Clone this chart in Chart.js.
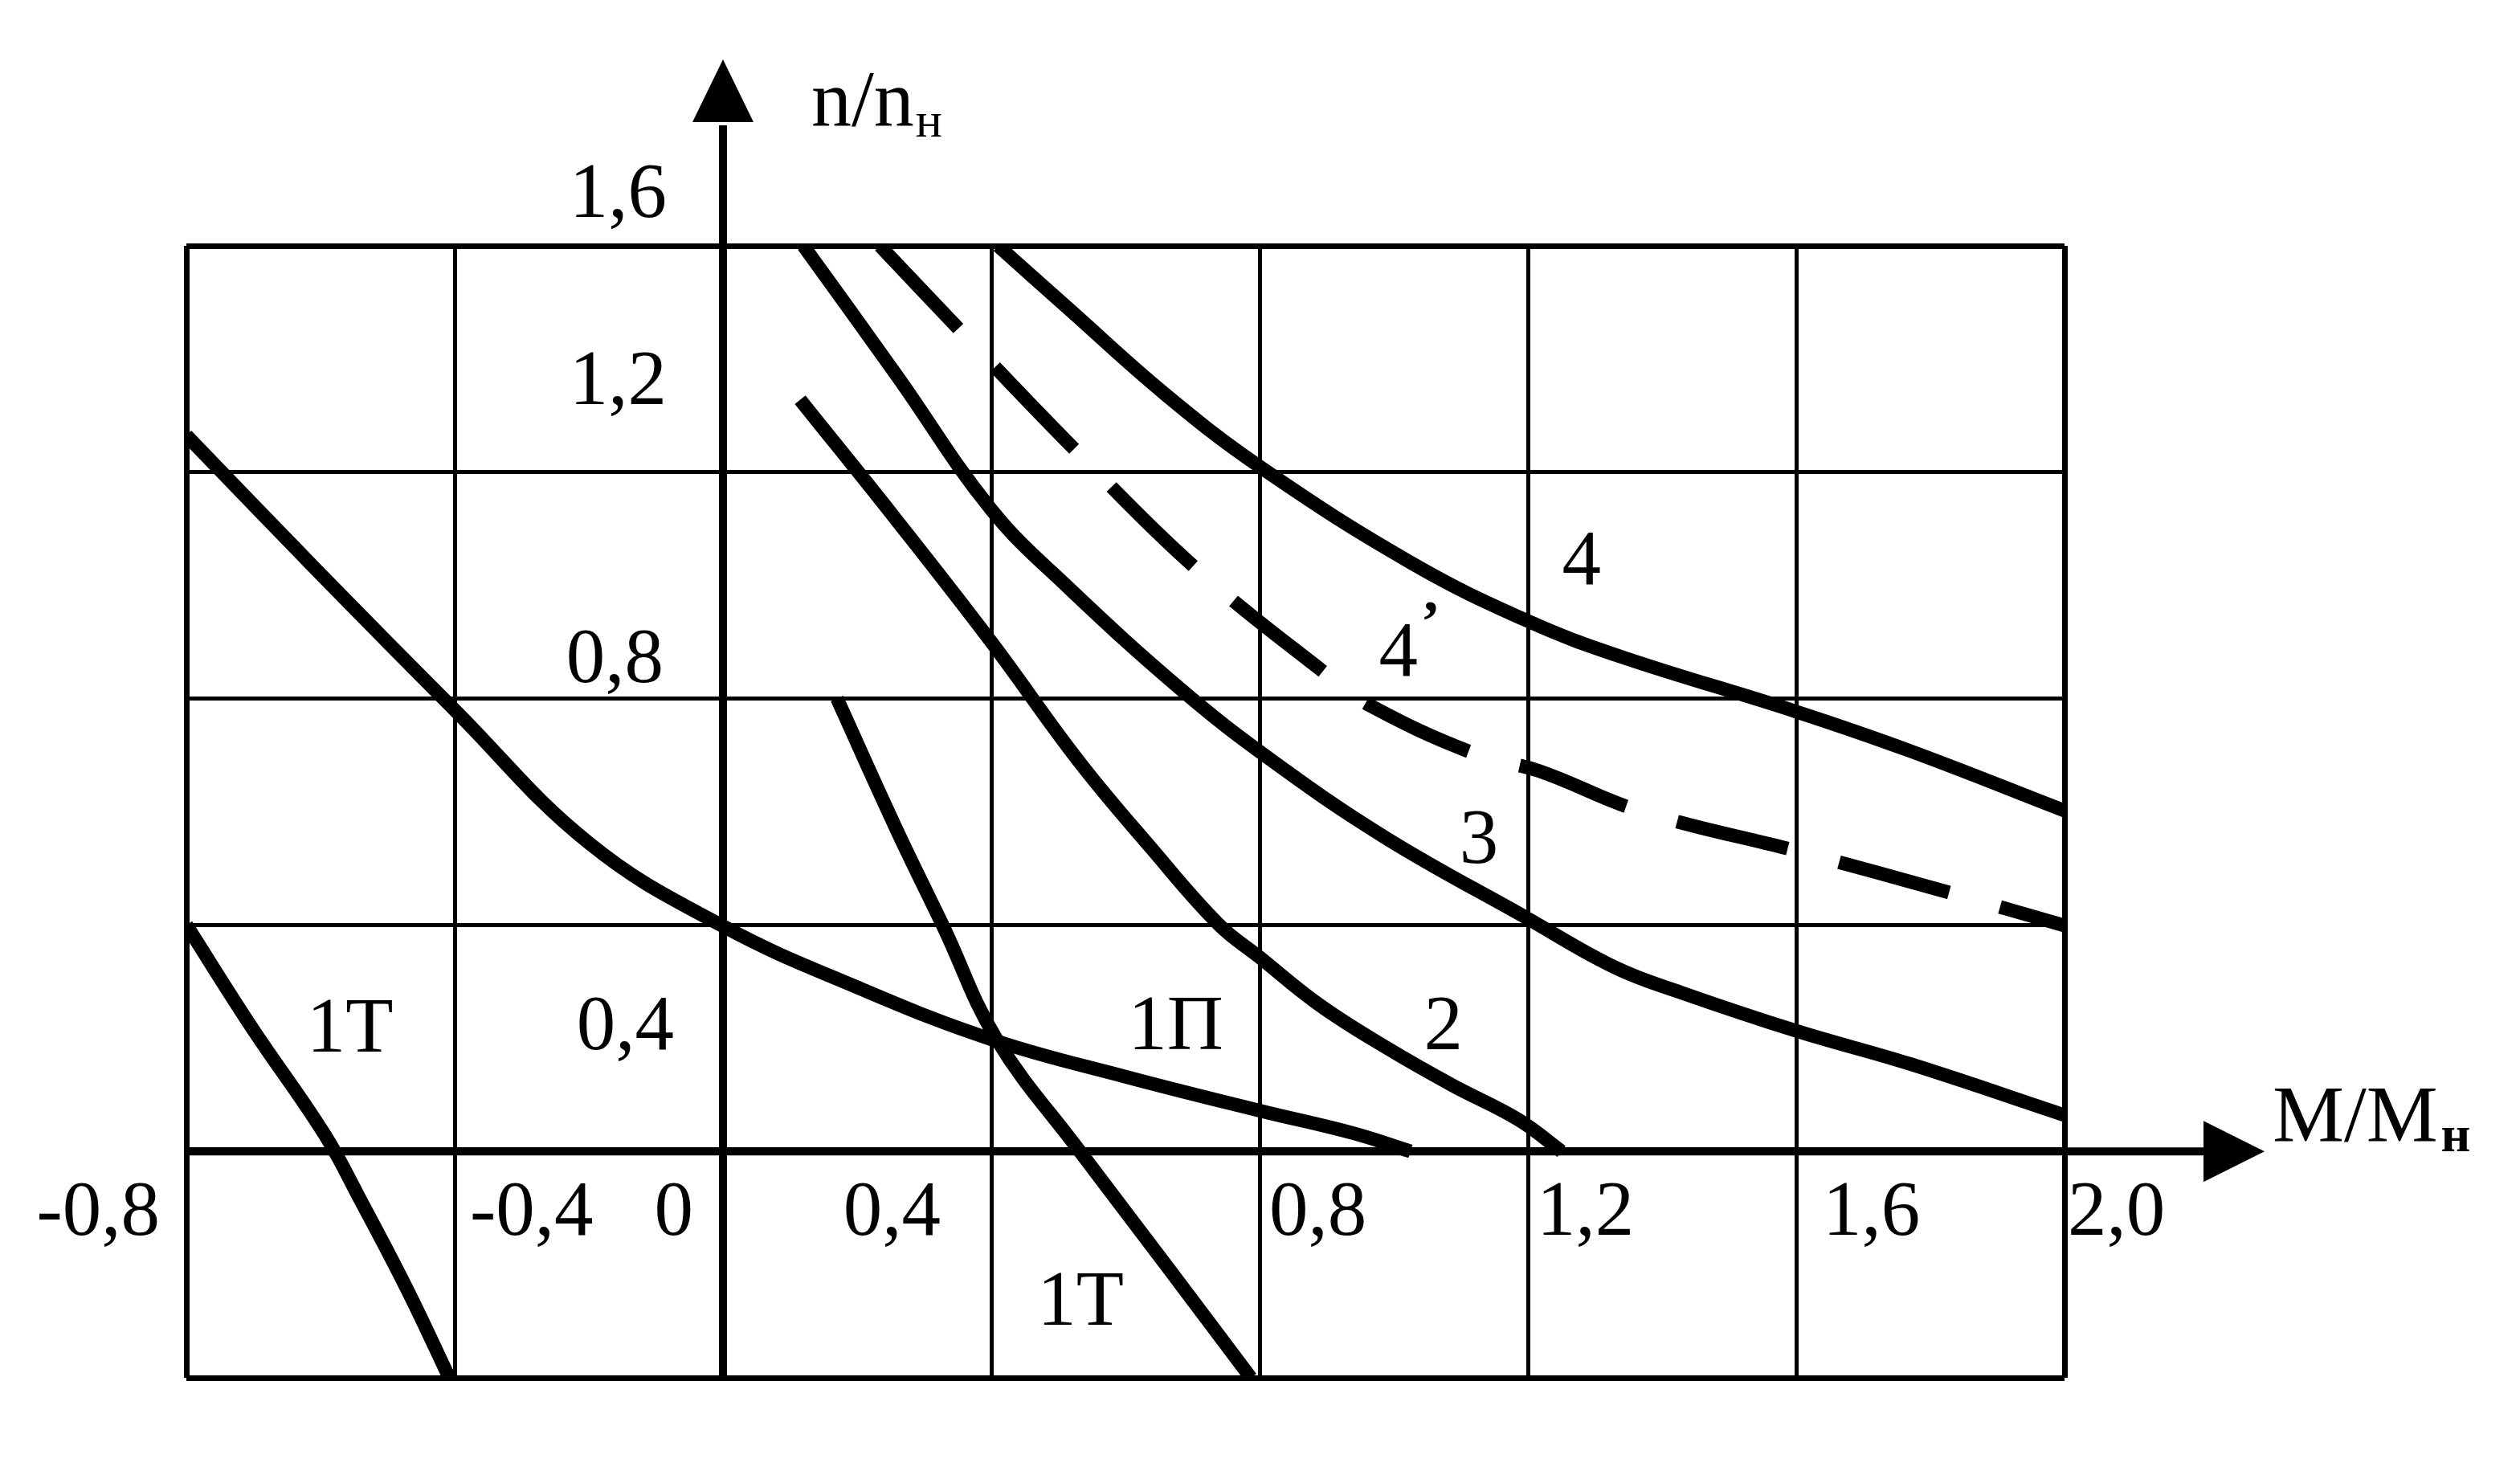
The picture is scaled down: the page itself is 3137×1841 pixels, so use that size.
<!DOCTYPE html>
<html>
<head>
<meta charset="utf-8">
<title>n/nн = f(M/Mн)</title>
<script src="https://cdn.jsdelivr.net/npm/chart.js@4.4.1/dist/chart.umd.min.js"></script>
<style>
  html, body { margin: 0; padding: 0; background: #fff; }
  canvas { display: block; }
</style>
</head>
<body>
<canvas id="chart" width="3137" height="1841"></canvas>
<script>
// tick values and their printed labels
const xTicks = [-0.8, -0.4, 0, 0.4, 0.8, 1.2, 1.6, 2.0];
const xTickLabels = ['-0,8', '-0,4', '0', '0,4', '0,8', '1,2', '1,6', '2,0'];
const yTicks = [1.6, 1.2, 0.8, 0.4];
const yTickLabels = ['1,6', '1,2', '0,8', '0,4'];

// curve 4 (solid)
const c4M = [0.41, 0.515, 0.659, 0.8, 1.026, 1.2, 1.339, 1.6, 1.771, 2.0];
const c4N = [1.6, 1.489, 1.338, 1.21, 1.04, 0.937, 0.874, 0.777, 0.707, 0.602];
// curve 4' (dashed)
const c4dM = [0.234, 0.354, 0.527, 0.707, 0.902, 0.966, 1.122, 1.217, 1.366, 1.61, 1.826, 2.0];
const c4dN = [1.6, 1.45, 1.237, 1.028, 0.841, 0.787, 0.702, 0.672, 0.602, 0.528, 0.458, 0.399];
// curve 3
const c3M = [0.12, 0.259, 0.4, 0.515, 0.685, 0.819, 0.988, 1.196, 1.33, 1.43, 1.6, 1.771, 2.0];
const c3N = [1.6, 1.371, 1.134, 0.996, 0.814, 0.69, 0.554, 0.414, 0.325, 0.28, 0.213, 0.154, 0.064];
// curve 2
const c2M = [0.115, 0.259, 0.4, 0.53, 0.639, 0.739, 0.799, 0.889, 0.988, 1.087, 1.186, 1.25];
const c2N = [1.328, 1.115, 0.9, 0.69, 0.535, 0.401, 0.344, 0.259, 0.184, 0.117, 0.056, 0.0];
// curve 1П
const c1pM = [-0.8, -0.6, -0.4, -0.2, 0, 0.2, 0.4, 0.6, 0.8, 0.94, 1.025];
const c1pN = [1.265, 1.02, 0.78, 0.545, 0.398, 0.29, 0.198, 0.132, 0.072, 0.032, 0.0];
// curve 1Т, left
const c1tLM = [-0.8, -0.702, -0.594, -0.54, -0.47, -0.408];
const c1tLN = [0.4, 0.218, 0.03, -0.087, -0.246, -0.4];
// curve 1Т, right
const c1tRM = [0.17, 0.259, 0.329, 0.407, 0.532, 0.66, 0.787];
const c1tRN = [0.8, 0.568, 0.396, 0.2, 0.0, -0.2, -0.4];

// curve captions
const captions = ['4', '4', '3', '2', '1П', '1Т', '1Т'];
const captionM = [1.28, 1.007, 1.127, 1.074, 0.675, -0.556, 0.533];
const captionN = [1.002, 0.84, 0.51, 0.181, 0.181, 0.177, -0.307];

const FONT = '"Liberation Serif", "Times New Roman", serif';

function pts(ms, ns) {
    return ms.map((m, i) => ({ x: m, y: ns[i] }));
}

function curve(ms, ns, dash) {
    return {
        data: pts(ms, ns),
        borderColor: '#000',
        borderWidth: 17,
        borderDash: dash || [],
        borderCapStyle: 'butt',
        borderJoinStyle: 'round',
        pointRadius: 0,
        tension: 0.4,
        fill: false
    };
}

// where the printed tick labels sit relative to their grid line
const xLabelPlace = [
    { align: 'right', dx: -33 }, { align: 'left', dx: 19 }, { align: 'right', dx: -37 },
    { align: 'right', dx: -63 }, { align: 'left', dx: 12 }, { align: 'left', dx: 11 },
    { align: 'left', dx: 33 }, { align: 'left', dx: 4 }
];
const yLabelPlace = [
    { dx: -70, dy: -36 }, { dx: -70, dy: -85 }, { dx: -74, dy: -21 }, { dx: -61, dy: 155 }
];

const figurePlugin = {
    id: 'figure',
    beforeDatasetsDraw(chart) {
        const { ctx, chartArea: a, scales: { x, y } } = chart;
        const x0 = x.getPixelForValue(0);
        const y0 = y.getPixelForValue(0);
        ctx.save();
        ctx.strokeStyle = '#000';
        ctx.fillStyle = '#000';
        ctx.lineWidth = 10;
        ctx.beginPath();
        ctx.moveTo(x0, a.bottom);
        ctx.lineTo(x0, a.top - 150);
        ctx.moveTo(a.left, y0);
        ctx.lineTo(a.right + 175, y0);
        ctx.stroke();
        // arrow heads
        ctx.beginPath();
        ctx.moveTo(x0, a.top - 232);
        ctx.lineTo(x0 - 38, a.top - 154);
        ctx.lineTo(x0 + 38, a.top - 154);
        ctx.closePath();
        ctx.fill();
        ctx.beginPath();
        ctx.moveTo(a.right + 249, y0);
        ctx.lineTo(a.right + 173, y0 - 38);
        ctx.lineTo(a.right + 173, y0 + 38);
        ctx.closePath();
        ctx.fill();
        ctx.restore();
    },
    afterDraw(chart) {
        const { ctx, chartArea: a, scales: { x, y } } = chart;
        const x0 = x.getPixelForValue(0);
        const y0 = y.getPixelForValue(0);
        ctx.save();
        ctx.fillStyle = '#000';
        ctx.textBaseline = 'alphabetic';
        ctx.font = '97px ' + FONT;

        xTicks.forEach((v, i) => {
            const p = xLabelPlace[i];
            ctx.textAlign = p.align;
            ctx.fillText(xTickLabels[i], x.getPixelForValue(v) + p.dx, y0 + 104);
        });
        yTicks.forEach((v, i) => {
            const p = yLabelPlace[i];
            ctx.textAlign = 'right';
            ctx.fillText(yTickLabels[i], x0 + p.dx, y.getPixelForValue(v) + p.dy);
        });

        ctx.textAlign = 'center';
        captions.forEach((t, i) => {
            ctx.fillText(t, x.getPixelForValue(captionM[i]), y.getPixelForValue(captionN[i]));
        });
        // prime on 4'
        ctx.font = 'bold 72px ' + FONT;
        ctx.fillText('’', x.getPixelForValue(captionM[1]) + 40, y.getPixelForValue(captionN[1]) - 44);

        // axis titles
        ctx.textAlign = 'left';
        ctx.font = '100px ' + FONT;
        ctx.fillText('n/n', x0 + 110, a.top - 150);
        let w = ctx.measureText('n/n').width;
        ctx.font = '62px ' + FONT;
        ctx.fillText('н', x0 + 112 + w, a.top - 136);

        ctx.font = '100px ' + FONT;
        ctx.fillText('M/M', a.right + 259, y0 - 13);
        w = ctx.measureText('M/M').width;
        ctx.font = 'bold 64px ' + FONT;
        ctx.fillText('н', a.right + 263 + w, y0);
        ctx.restore();
    }
};

function gridWidth(ctx, lo, hi) {
    const v = ctx.tick ? ctx.tick.value : null;
    if (v === null) return 5;
    if (Math.abs(v) < 1e-9) return 10;
    if (Math.abs(v - lo) < 1e-9 || Math.abs(v - hi) < 1e-9) return 7;
    return 5;
}

new Chart(document.getElementById('chart'), {
    type: 'line',
    data: {
        datasets: [
            curve(c4M, c4N),
            curve(c4dM, c4dN, [142, 66]),
            curve(c3M, c3N),
            curve(c2M, c2N),
            curve(c1pM, c1pN),
            curve(c1tLM, c1tLN),
            curve(c1tRM, c1tRN)
        ]
    },
    options: {
        responsive: false,
        devicePixelRatio: 1,
        animation: false,
        events: [],
        layout: {
            autoPadding: false,
            padding: { left: 232, top: 306, right: 567, bottom: 126 }
        },
        plugins: { legend: { display: false }, tooltip: { enabled: false } },
        scales: {
            x: {
                type: 'linear',
                min: -0.8,
                max: 2.0,
                afterBuildTicks: s => { s.ticks = xTicks.map(v => ({ value: v })); },
                ticks: { display: false },
                border: { display: false },
                grid: {
                    color: '#000',
                    drawTicks: false,
                    lineWidth: c => gridWidth(c, -0.8, 2.0)
                }
            },
            y: {
                type: 'linear',
                min: -0.4,
                max: 1.6,
                afterBuildTicks: s => { s.ticks = [-0.4, 0, ...yTicks.slice().reverse()].map(v => ({ value: v })); },
                ticks: { display: false },
                border: { display: false },
                grid: {
                    color: '#000',
                    drawTicks: false,
                    lineWidth: c => gridWidth(c, -0.4, 1.6)
                }
            }
        }
    },
    plugins: [figurePlugin]
});
</script>
</body>
</html>
